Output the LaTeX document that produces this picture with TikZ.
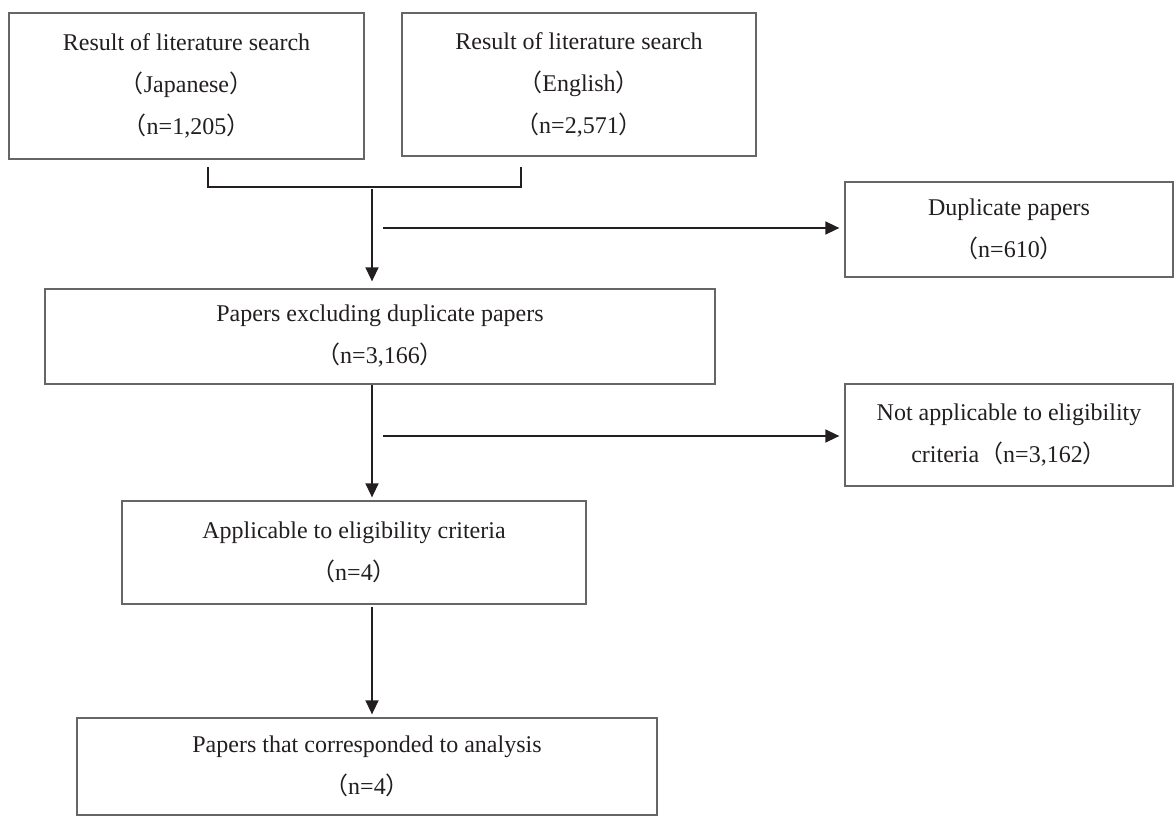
\documentclass[tikz,border=0pt]{standalone}
\usepackage{fontspec}
\setmainfont{Liberation Serif}
\newfontfamily\cjk{Noto Sans CJK JP}
\usetikzlibrary{arrows.meta}
\newcommand{\lpar}{{\cjk （}}
\newcommand{\rpar}{{\cjk ）}}
\definecolor{ink}{HTML}{231F20}
\definecolor{frame}{HTML}{666666}
\begin{document}
\begin{tikzpicture}[x=1pt,y=-1pt,
  box/.style={draw=frame, line width=1.3pt, inner sep=0pt, align=center, text=ink,
    font=\fontsize{24}{42}\selectfont},
  arr/.style={draw=ink, line width=1.5pt, -{Triangle[length=14pt,width=13pt]}, shorten >=3pt},
  ln/.style={draw=ink, line width=1.5pt}]
\useasboundingbox (0,0) rectangle (1174,816);
\fill[white] (0,0) rectangle (1174,816);

\node[box, minimum width=355pt, minimum height=146pt] (jp) at (186.5,86)
  {Result of literature search\\\lpar Japanese\rpar\\\lpar n=1,205\rpar};
\node[box, minimum width=354pt, minimum height=143pt] (en) at (579,84.5)
  {Result of literature search\\\lpar English\rpar\\\lpar n=2,571\rpar};
\node[box, minimum width=328pt, minimum height=95pt] (dup) at (1009,229.5)
  {Duplicate papers\\\lpar n=610\rpar};
\node[box, minimum width=670pt, minimum height=95pt] (excl) at (380,336.5)
  {Papers excluding duplicate papers\\\lpar n=3,166\rpar};
\node[box, minimum width=328pt, minimum height=102pt] (na) at (1009,435)
  {Not applicable to eligibility\\criteria\lpar n=3,162\rpar};
\node[box, minimum width=464pt, minimum height=103pt] (appl) at (354,552.5)
  {Applicable to eligibility criteria\\\lpar n=4\rpar};
\node[box, minimum width=580pt, minimum height=97pt] (anal) at (367,766.5)
  {Papers that corresponded to analysis\\\lpar n=4\rpar};

% bracket joining the two searches
\coordinate (bl) at (208,167);
\coordinate (br) at (521,167);
\coordinate (bm) at (372,189);
\draw[ln] (bl) -- ++(0,20) -| (br);
\draw[arr, shorten >=7pt] (bm) -- (bm |- excl.north);

% side exclusions
\coordinate (s1) at (383,228);
\coordinate (s2) at (383,436);
\draw[arr, shorten >=5pt] (s1) -- (s1 -| dup.west);
\draw[arr, shorten >=5pt] (s2) -- (s2 -| na.west);

% main flow
\draw[arr] (excl.south -| bm) -- (appl.north -| bm);
\draw[arr] ([yshift=-2pt]appl.south -| bm) -- (anal.north -| bm);
\end{tikzpicture}
\end{document}
